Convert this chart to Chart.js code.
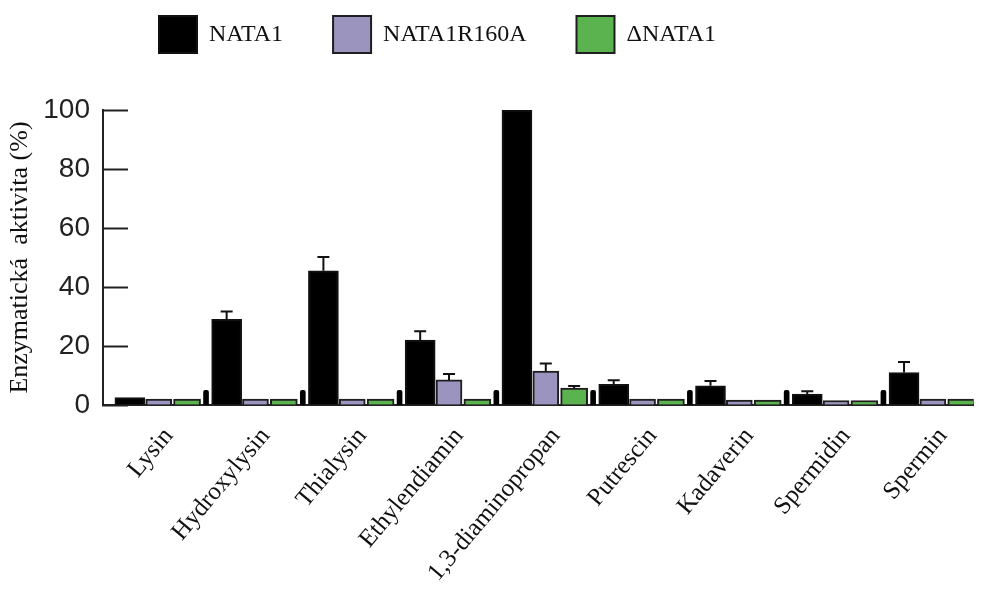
<!DOCTYPE html>
<html>
<head>
<meta charset="utf-8">
<script src="https://cdn.jsdelivr.net/npm/chart.js@4"></script>
<style>
  html, body { margin: 0; padding: 0; background: #fff; }
</style>
</head>
<body>
<canvas id="myChart" width="983" height="595"></canvas>
<script>
// data
var categories = ['Lysin', 'Hydroxylysin', 'Thialysin', 'Ethylendiamin', '1,3-diaminopropan',
                  'Putrescin', 'Kadaverin', 'Spermidin', 'Spermin'];
var nata1 = [2.5, 29, 45.5, 22, 100, 7, 6.5, 3.7, 11];
var nata1Err = [0, 2.7, 4.7, 3, 0, 1.4, 1.6, 1, 3.6];
var r160a = [2, 2, 2, 8.5, 11.5, 2, 1.7, 1.5, 2];
var r160aErr = [0, 0, 0, 2, 2.6, 0, 0, 0, 0];
var delta = [2, 2, 2, 2, 5.7, 2, 1.7, 1.5, 2];
var deltaErr = [0, 0, 0, 0, 0.7, 0, 0, 0, 0];
var separator = [5, 5, 5, 5, 5, 5, 5, 5, null];

var serif = 'Liberation Serif';

function pts(values, shift) {
  return values.map(function(v, i) { return {x: i + shift, y: v}; });
}

var errorBars = {
  id: 'errorBars',
  afterDatasetsDraw: function(chart) {
    var ctx = chart.ctx;
    var y = chart.scales.y;
    ctx.save();
    ctx.strokeStyle = '#111';
    ctx.lineWidth = 2;
    chart.data.datasets.forEach(function(ds, d) {
      if (!ds.errors) return;
      var meta = chart.getDatasetMeta(d);
      ds.errors.forEach(function(e, i) {
        if (!e) return;
        var bar = meta.data[i];
        var top = y.getPixelForValue(ds.data[i].y + e);
        ctx.beginPath();
        ctx.moveTo(bar.x, bar.y);
        ctx.lineTo(bar.x, top);
        ctx.moveTo(bar.x - 6, top);
        ctx.lineTo(bar.x + 6, top);
        ctx.stroke();
      });
    });
    ctx.restore();
  }
};

var legendPlace = {
  id: 'legendPlace',
  beforeInit: function(chart) {
    var fit = chart.legend.fit;
    chart.legend.fit = function() {
      fit.call(this);
      this.height = 110;
    };
  },
  afterLayout: function(chart) {
    chart.legend.top = -34;
    chart.legend.right = 875;
  }
};

var ctx = document.getElementById('myChart').getContext('2d');
var myChart = new Chart(ctx, {
  type: 'bar',
  data: {
    datasets: [{
      label: 'NATA1',
      data: pts(nata1, -0.401),
      errors: nata1Err,
      backgroundColor: '#000000',
      borderColor: '#111111',
      borderWidth: 2,
      barThickness: 30,
      grouped: false
    }, {
      label: 'NATA1R160A',
      data: pts(r160a, -0.103),
      errors: r160aErr,
      backgroundColor: '#9b94bf',
      borderColor: '#1e1e1e',
      borderWidth: 2,
      barThickness: 26,
      grouped: false
    }, {
      label: '\u0394NATA1',
      data: pts(delta, 0.19),
      errors: deltaErr,
      backgroundColor: '#5bb34f',
      borderColor: '#1e1e1e',
      borderWidth: 2,
      barThickness: 27,
      grouped: false
    }, {
      label: '',
      data: pts(separator, 0.386),
      backgroundColor: '#000000',
      borderWidth: 0,
      borderRadius: 2,
      barThickness: 5,
      grouped: false
    }]
  },
  options: {
    responsive: false,
    animation: false,
    layout: { padding: { left: 0, right: 5, top: 0, bottom: 0 } },
    scales: {
      x: {
        type: 'linear',
        min: -0.6787,
        max: 8.3187,
        offset: false,
        grid: { display: false, drawTicks: false },
        border: { display: true, color: '#222', width: 2 },
        afterBuildTicks: function(scale) {
          scale.ticks = categories.map(function(c, i) { return {value: i}; });
        },
        ticks: {
          autoSkip: false,
          minRotation: 50,
          maxRotation: 50,
          padding: 17,
          color: '#111',
          font: { family: serif, size: 25 },
          callback: function(value, index) { return categories[index]; }
        },
        afterFit: function(scale) { scale.height = 190; }
      },
      y: {
        min: 0,
        max: 100,
        ticks: {
          stepSize: 20,
          padding: 38,
          color: '#222',
          font: { family: 'Liberation Sans', size: 28 }
        },
        grid: { drawOnChartArea: false, drawTicks: true, tickLength: -25, tickWidth: 2, tickColor: '#222' },
        border: { color: '#222', width: 2 },
        title: {
          display: true,
          text: 'Enzymatická  aktivita (%)',
          color: '#111',
          font: { family: serif, size: 26 },
          padding: { top: 5, bottom: 0 }
        },
        afterFit: function(scale) { scale.width = 103; }
      }
    },
    plugins: {
      legend: {
        position: 'top',
        labels: {
          boxWidth: 38,
          boxHeight: 37,
          padding: 50,
          color: '#111',
          font: { family: serif, size: 24 },
          filter: function(item) { return item.text !== ''; }
        }
      },
      tooltip: { enabled: false }
    }
  },
  plugins: [errorBars, legendPlace]
});
</script>
</body>
</html>
